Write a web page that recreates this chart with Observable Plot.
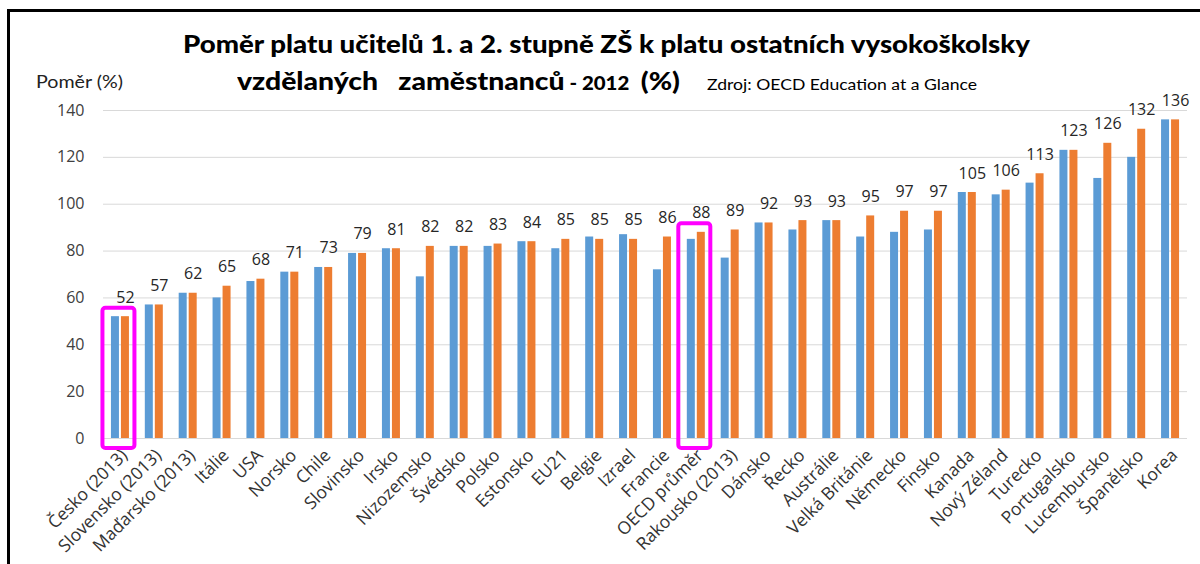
<!DOCTYPE html>
<html>
<head>
<meta charset="utf-8">
<script src="https://cdn.jsdelivr.net/npm/d3@7"></script>
<script src="https://cdn.jsdelivr.net/npm/@observablehq/plot@0.6"></script>
<style>
  html, body { margin: 0; padding: 0; background: #fff; overflow: hidden; }
  #wrap { position: relative; width: 1200px; height: 564px; overflow: hidden; }
  #frame { position: absolute; left: 7px; top: 9px; width: 1300px; height: 700px;
           border-top: 3px solid #000; border-left: 3px solid #000; box-sizing: border-box; }
  .t { position: absolute; white-space: pre; line-height: 1; color: #000; transform-origin: 0 0; }
  .title { font-family: Lato, "Open Sans", sans-serif; font-weight: 900; font-size: 25px; }
  .small { font-size: 18px; }
  .note { font-family: Lato, "Open Sans", sans-serif; font-size: 16px; }
  #ylab { font-size: 18px; color: #222; }
  #chart { position: absolute; left: 0; top: 0; }
</style>
</head>
<body>
<div id="wrap">
  <div id="frame"></div>
  <div id="chart"></div>
  <div class="t title" id="t1" data-w="847">Poměr platu učitelů 1. a 2. stupně ZŠ k platu ostatních vysokoškolsky</div>
  <div class="t title" id="t2" data-w="443">vzdělaných   zaměstnanců<span class="small"> - 2012 </span> (%)</div>
  <div class="t note" id="src" data-w="270">Zdroj: OECD Education at a Glance</div>
  <div class="t note" id="ylab" data-w="87">Poměr (%)</div>
</div>
<script>
// ---- data ----
const countries = ["Česko (2013)", "Slovensko (2013)", "Maďarsko (2013)", "Itálie", "USA", "Norsko", "Chile",
  "Slovinsko", "Irsko", "Nizozemsko", "Švédsko", "Polsko", "Estonsko", "EU21", "Belgie", "Izrael", "Francie",
  "OECD průměr", "Rakousko (2013)", "Dánsko", "Řecko", "Austrálie", "Velká Británie", "Německo", "Finsko",
  "Kanada", "Nový Zéland", "Turecko", "Portugalsko", "Lucembursko", "Španělsko", "Korea"];
const primary = [52, 57, 62, 60, 67, 71, 73, 79, 81, 69, 82, 82, 84, 81, 86, 87, 72, 85, 77, 92, 89, 93, 86, 88, 89,
  105, 104, 109, 123, 111, 120, 136];
const lowerSecondary = [52, 57, 62, 65, 68, 71, 73, 79, 81, 82, 82, 83, 84, 85, 85, 85, 86, 88, 89, 92, 93, 93, 95, 97, 97,
  105, 106, 113, 123, 126, 132, 136];
const highlighted = ["Česko (2013)", "OECD průměr"];
const yTicks = [0, 20, 40, 60, 80, 100, 120, 140];

const data = countries.map((c, i) => ({country: c, p: primary[i], s: lowerSecondary[i]}));

// ---- layout ----
const W = 1200, H = 564, mL = 103, mR = 13, mT = 110, mB = 126;
const half = (W - mL - mR) / countries.length / 2;

const chart = Plot.plot({
  width: W, height: H,
  marginTop: mT, marginBottom: mB, marginLeft: mL, marginRight: mR,
  style: {fontFamily: "'Open Sans', sans-serif", background: "transparent", overflow: "visible"},
  x: {domain: countries, padding: 0, round: false, label: null},
  y: {domain: [0, 140], label: null},
  marks: [
    Plot.gridY(yTicks, {stroke: "#d9d9d9", strokeOpacity: 1, strokeWidth: 1}),
    Plot.axisY(yTicks, {tickSize: 0, tickPadding: 19, fontSize: 16, fill: "#404040", label: null}),
    Plot.axisX({tickSize: 0, tickRotate: -45, tickPadding: 14, dx: 4, fontSize: 17.5, fill: "#333", label: null}),
    Plot.barY(data, {x: "country", y: "p", fill: "#5B9BD5", insetLeft: half - 9, insetRight: half + 1}),
    Plot.barY(data, {x: "country", y: "s", fill: "#ED7D31", insetLeft: half + 1, insetRight: half - 9}),
    Plot.barY(data.filter(d => highlighted.includes(d.country)), {
      x: "country", y1: 0, y2: "s", fill: "none", stroke: "#FF00FF", strokeWidth: 4, rx: 3,
      insetTop: -8.5, insetBottom: -10, insetLeft: half - 17.5, insetRight: half - 14.5
    }),
    Plot.text(data, {x: "country", y: "s", text: d => String(d.s), dx: 5, dy: -14, lineAnchor: "bottom",
      fontSize: 16, fill: "#262626"})
  ]
});
document.getElementById("chart").append(chart);

// ---- titles: position by baseline and fit to width ----
function place(id, x, baseline) {
  const el = document.getElementById(id);
  el.style.left = x + "px";
  el.style.top = "0px";
  const w = el.getBoundingClientRect().width;
  const target = +el.dataset.w;
  const probe = document.createElement("span");
  probe.style.display = "inline-block"; probe.style.width = "0"; probe.style.height = "0";
  el.appendChild(probe);
  const base = probe.getBoundingClientRect().top - el.getBoundingClientRect().top;
  el.removeChild(probe);
  el.style.top = (baseline - base) + "px";
  el.style.transform = `scaleX(${target / w})`;
}
place("t1", 183, 53);
place("t2", 237, 90);
place("src", 707, 90);
place("ylab", 36, 88);
</script>
</body>
</html>
